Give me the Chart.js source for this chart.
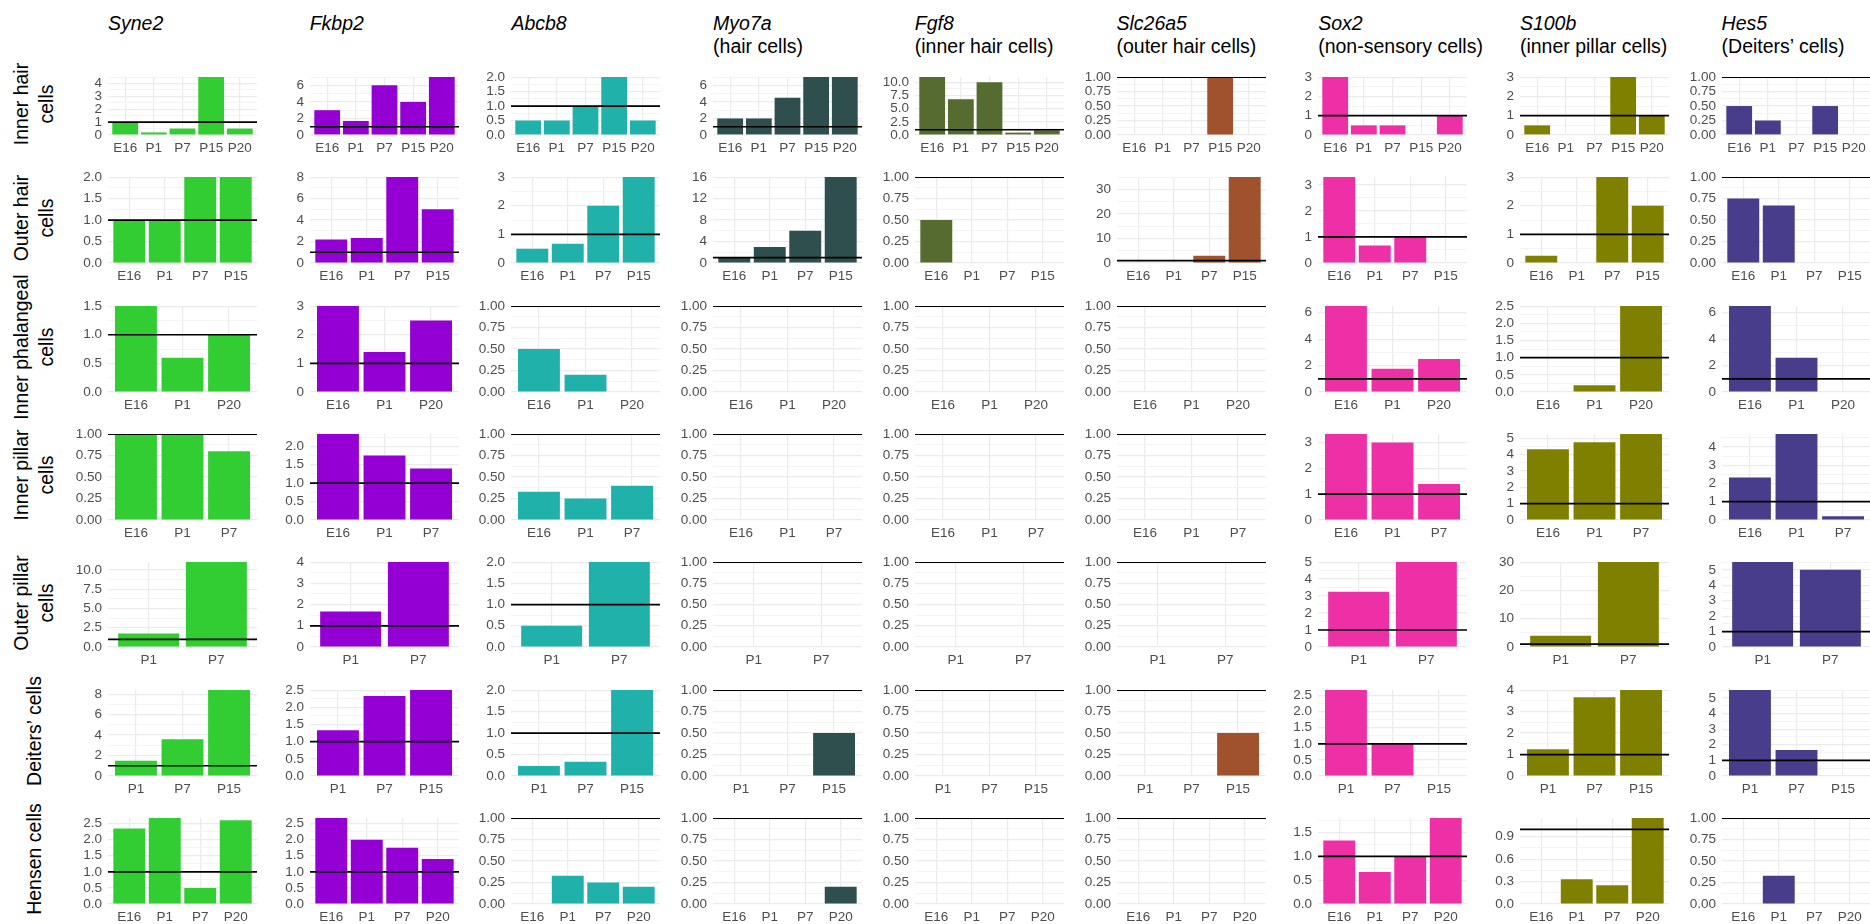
<!DOCTYPE html>
<html>
<head>
<meta charset="utf-8">
<script src="https://cdn.jsdelivr.net/npm/chart.js@4.4.1/dist/chart.umd.min.js"></script>
<style>
  html, body { margin: 0; padding: 0; background: #fff; }
  body { width: 1870px; height: 924px; position: relative; overflow: hidden; font-family: "Liberation Sans", Arial, sans-serif; }
  canvas { position: absolute; }
  .title { position: absolute; top: 12px; font-size: 19.5px; line-height: 23px; color: #000; white-space: nowrap; }
  .title i { font-style: italic; }
  .rowlab { position: absolute; width: 260px; text-align: center; font-size: 19.5px; line-height: 25px; color: #000;
            white-space: pre; transform: translate(-50%, -50%) rotate(-90deg); }
</style>
</head>
<body>
<script>
/* fold change per cell type and stage, one small multiple per gene x cell type */

const genes = ["Syne2", "Fkbp2", "Abcb8", "Myo7a", "Fgf8", "Slc26a5", "Sox2", "S100b", "Hes5"];
const geneNotes = ["", "", "", "(hair cells)", "(inner hair cells)", "(outer hair cells)",
  "(non-sensory cells)", "(inner pillar cells)", "(Deiters’ cells)"];
const geneColors = ["#32CD32", "#9400D3", "#20B2AA", "#2F4F4F", "#556B2F", "#A0522D", "#EE30A7", "#808000", "#483D8B"];

const cellTypes = ["Inner hair\ncells", "Outer hair\ncells", "Inner phalangeal\ncells", "Inner pillar\ncells",
  "Outer pillar\ncells", "Deiters’ cells", "Hensen cells"];

const stagesInnerHair = ["E16", "P1", "P7", "P15", "P20"];
const stagesOuterHair = ["E16", "P1", "P7", "P15"];
const stagesInnerPhalangeal = ["E16", "P1", "P20"];
const stagesInnerPillar = ["E16", "P1", "P7"];
const stagesOuterPillar = ["P1", "P7"];
const stagesDeiters = ["P1", "P7", "P15"];
const stagesHensen = ["E16", "P1", "P7", "P20"];

// values per cell type (rows above), same order as the stages
const syne2   = [[1, 0.2, 0.5, 4.5, 0.5], [1, 1, 2, 2], [1.5, 0.6, 1], [1, 1, 0.8], [1.75, 11], [1.5, 3.6, 8.4], [2.35, 2.67, 0.5, 2.6]];
const fkbp2   = [[3, 1.7, 6, 4, 7], [2.2, 2.33, 8, 5], [3, 1.4, 2.5], [2.33, 1.75, 1.4], [1.67, 4], [1.33, 2.33, 2.5], [2.67, 2, 1.75, 1.4]];
const abcb8   = [[0.5, 0.5, 1, 2, 0.5], [0.5, 0.67, 2, 3], [0.5, 0.2, 0], [0.33, 0.25, 0.4], [0.5, 2], [0.23, 0.33, 2], [0, 0.33, 0.25, 0.2]];
const myo7a   = [[2, 2, 4.5, 7, 7], [1, 3, 6, 16], [0, 0, 0], [0, 0, 0], [0, 0], [0, 0, 0.5], [0, 0, 0, 0.2]];
const fgf8    = [[11, 6.8, 10, 0.45, 0.9], [0.5, 0, 0, 0], [0, 0, 0], [0, 0, 0], [0, 0], [0, 0, 0], [0, 0, 0, 0]];
const slc26a5 = [[0, 0, 0, 1, 0], [0, 0, 3, 35], [0, 0, 0], [0, 0, 0], [0, 0], [0, 0, 0.5], [0, 0, 0, 0]];
const sox2    = [[3, 0.5, 0.5, 0, 1], [3.3, 0.67, 1, 0], [6.5, 1.75, 2.5], [3.33, 3, 1.4], [3.25, 5], [2.67, 1, 0], [1.33, 0.67, 1, 1.8]];
const s100b   = [[0.5, 0, 0, 3, 1], [0.25, 0, 3, 2], [0, 0.2, 2.5], [4.33, 4.75, 5.25], [4, 30], [1.25, 3.67, 4], [0, 0.33, 0.25, 1.15]];
const hes5    = [[0.5, 0.25, 0, 0.5, 0], [0.75, 0.67, 0, 0], [6.5, 2.6, 0], [2.33, 4.7, 0.2], [5.5, 5], [5.5, 1.67, 0], [0, 0.33, 0, 0]];

// y tick step of each panel (major ticks), per cell type
const stepsSyne2   = [1, 0.5, 0.5, 0.25, 2.5, 2, 0.5];
const stepsFkbp2   = [2, 2, 1, 0.5, 1, 0.5, 0.5];
const stepsAbcb8   = [0.5, 1, 0.25, 0.25, 0.5, 0.5, 0.25];
const stepsMyo7a   = [2, 4, 0.25, 0.25, 0.25, 0.25, 0.25];
const stepsFgf8    = [2.5, 0.25, 0.25, 0.25, 0.25, 0.25, 0.25];
const stepsSlc26a5 = [0.25, 10, 0.25, 0.25, 0.25, 0.25, 0.25];
const stepsSox2    = [1, 1, 2, 1, 1, 0.5, 0.5];
const stepsS100b   = [1, 1, 0.5, 1, 10, 1, 0.3];
const stepsHes5    = [0.25, 0.25, 2, 1, 1, 1, 0.25];

const REF_LEVEL = 1; // no change

const rowStages = [stagesInnerHair, stagesOuterHair, stagesInnerPhalangeal, stagesInnerPillar, stagesOuterPillar, stagesDeiters, stagesHensen];
const geneValues = [syne2, fkbp2, abcb8, myo7a, fgf8, slc26a5, sox2, s100b, hes5];
const geneSteps = [stepsSyne2, stepsFkbp2, stepsAbcb8, stepsMyo7a, stepsFgf8, stepsSlc26a5, stepsSox2, stepsS100b, stepsHes5];

// layout of the panel grid
const COL_X0 = 108, COL_PITCH = 201.7, PLOT_W = 149;
const ROW_TOPS = [73, 173, 302, 430, 558, 686, 814];
const ROW_HEIGHTS = [62, 90, 90, 90, 89, 90, 90];
const AXIS_W = 50, XAXIS_H = 24, PAD_T = 10;

Chart.defaults.font.family = '"Liberation Sans", Arial, sans-serif';
Chart.defaults.font.size = 13.5;
Chart.defaults.color = "#4D4D4D";

const refLine = {
  id: "refLine",
  afterDatasetsDraw(chart) {
    const { ctx, chartArea: a, scales: { y } } = chart;
    const py = y.getPixelForValue(REF_LEVEL);
    ctx.save();
    ctx.beginPath();
    ctx.rect(a.left, a.top, a.right - a.left, a.bottom - a.top);
    ctx.clip();
    ctx.strokeStyle = "#000";
    ctx.lineWidth = 1.7;
    ctx.beginPath();
    ctx.moveTo(a.left, py);
    ctx.lineTo(a.right, py);
    ctx.stroke();
    ctx.restore();
  },
};

const decimalsOf = (step) => (Number.isInteger(step) ? 0 : String(step).split(".")[1].length);
const isMajor = (v, step) => Math.abs(v / step - Math.round(v / step)) < 1e-6;

// column titles
genes.forEach((g, c) => {
  const d = document.createElement("div");
  d.className = "title";
  d.style.left = (COL_X0 + c * COL_PITCH) + "px";
  d.innerHTML = `<i>${g}</i>${geneNotes[c] ? "<br>" + geneNotes[c] : ""}`;
  document.body.appendChild(d);
});

// row labels
cellTypes.forEach((t, r) => {
  const d = document.createElement("div");
  d.className = "rowlab";
  d.style.left = "34px";
  d.style.top = (ROW_TOPS[r] + ROW_HEIGHTS[r] / 2) + "px";
  d.textContent = t;
  document.body.appendChild(d);
});

function drawPanel(r, c) {
  const cats = rowStages[r];
  const vals = geneValues[c][r];
  const step = geneSteps[c][r];
  const yMax = Math.max(REF_LEVEL, ...vals);
  const dec = decimalsOf(step);

  const canvas = document.createElement("canvas");
  canvas.width = AXIS_W + PLOT_W;
  canvas.height = PAD_T + ROW_HEIGHTS[r] + XAXIS_H;
  canvas.style.left = (COL_X0 + c * COL_PITCH - AXIS_W) + "px";
  canvas.style.top = (ROW_TOPS[r] - PAD_T) + "px";
  document.body.appendChild(canvas);

  new Chart(canvas, {
    type: "bar",
    data: {
      datasets: [{
        data: vals.map((v, i) => ({ x: i, y: v })),
        backgroundColor: geneColors[c],
        borderWidth: 0,
        categoryPercentage: 1,
        barPercentage: 0.9,
      }],
    },
    options: {
      responsive: false, animation: false,
      layout: { padding: { top: PAD_T, left: 0, right: 0, bottom: 0 } },
      plugins: { legend: { display: false }, tooltip: { enabled: false } },
      scales: {
        x: {
          type: "linear", min: -0.6, max: cats.length - 0.4, offset: false,
          afterBuildTicks: (s) => { s.ticks = cats.map((_, i) => ({ value: i })); },
          afterFit: (s) => { s.height = XAXIS_H; },
          grid: { color: "#EBEBEB", lineWidth: 1.2, drawTicks: false, offset: false },
          border: { display: false },
          ticks: { padding: 5, maxRotation: 0, autoSkip: false, callback: (v, i) => cats[i] },
        },
        y: {
          min: 0, max: yMax,
          afterBuildTicks: (s) => {
            const t = [];
            for (let k = 0; k * step / 2 <= yMax + 1e-9; k++) t.push({ value: k * step / 2 });
            s.ticks = t;
          },
          afterFit: (s) => { s.width = AXIS_W; },
          grid: {
            drawTicks: false,
            color: (ctx) => (ctx.tick && isMajor(ctx.tick.value, step) ? "#EBEBEB" : "#F3F3F3"),
            lineWidth: (ctx) => (ctx.tick && isMajor(ctx.tick.value, step) ? 1.2 : 0.9),
          },
          border: { display: false },
          ticks: { padding: 6, autoSkip: false, callback: (v) => (isMajor(v, step) ? v.toFixed(dec) : "") },
        },
      },
    },
    plugins: [refLine],
  });
}

for (let r = 0; r < rowStages.length; r++) {
  for (let c = 0; c < genes.length; c++) drawPanel(r, c);
}
</script>
</body>
</html>
